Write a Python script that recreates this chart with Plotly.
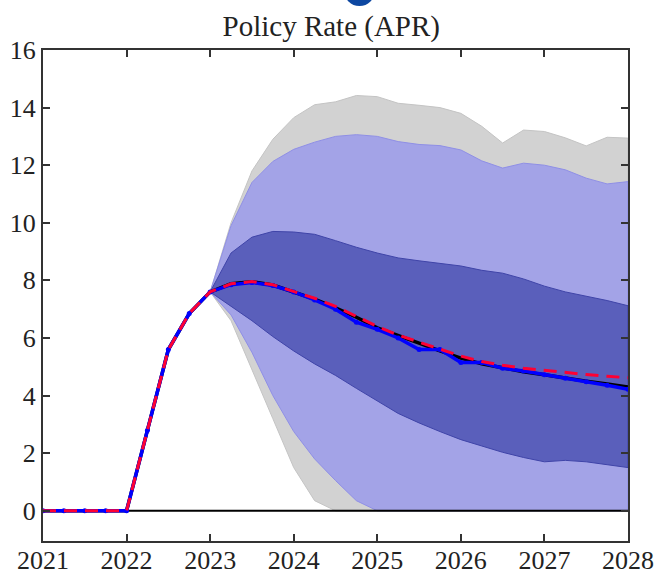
import plotly.graph_objects as go

# ---- data ----
hist_x = [2021.0, 2021.25, 2021.5, 2021.75, 2022.0, 2022.25, 2022.5, 2022.75, 2023.0]
hist_y = [0, 0, 0, 0, 0, 2.8, 5.6, 6.85, 7.6]

fc_x = [2023.0, 2023.25, 2023.5, 2023.75, 2024.0, 2024.25, 2024.5, 2024.75, 2025.0,
        2025.25, 2025.5, 2025.75, 2026.0, 2026.25, 2026.5, 2026.75, 2027.0,
        2027.25, 2027.5, 2027.75, 2028.0]

red_fc = [7.6, 7.88, 7.96, 7.85, 7.62, 7.38, 7.1, 6.75, 6.4, 6.1, 5.85, 5.6, 5.37,
          5.18, 5.05, 4.95, 4.87, 4.8, 4.73, 4.67, 4.62]
black_fc = [7.6, 7.88, 7.95, 7.84, 7.6, 7.35, 7.05, 6.72, 6.35, 6.07, 5.82, 5.55, 5.3,
            5.1, 4.95, 4.83, 4.72, 4.6, 4.5, 4.4, 4.3]
blue_fc = [7.6, 7.85, 7.93, 7.82, 7.6, 7.32, 7.0, 6.55, 6.3, 6.0, 5.6, 5.6, 5.15,
           5.15, 4.95, 4.85, 4.72, 4.6, 4.48, 4.36, 4.22]

gray_up = [7.6, 10.0, 11.8, 12.9, 13.65, 14.1, 14.2, 14.42, 14.38, 14.15, 14.08, 14.0,
           13.8, 13.35, 12.77, 13.22, 13.17, 12.95, 12.67, 12.97, 12.94]
gray_lo = [7.6, 6.6, 4.9, 3.2, 1.5, 0.35, 0, 0, 0, 0, 0, 0, 0, 0, 0, 0, 0, 0, 0, 0, 0]
light_up = [7.6, 9.9, 11.4, 12.13, 12.55, 12.8, 13.0, 13.06, 13.0, 12.82, 12.72, 12.68,
            12.53, 12.15, 11.9, 12.07, 12.0, 11.84, 11.55, 11.35, 11.43]
light_lo = [7.6, 6.8, 5.5, 4.0, 2.75, 1.8, 1.05, 0.35, 0, 0, 0, 0, 0, 0, 0, 0, 0, 0, 0, 0, 0]
dark_up = [7.6, 8.95, 9.5, 9.7, 9.68, 9.6, 9.38, 9.15, 8.95, 8.78, 8.68, 8.6, 8.5,
           8.35, 8.25, 8.05, 7.8, 7.6, 7.45, 7.3, 7.12]
dark_lo = [7.6, 7.1, 6.6, 6.05, 5.55, 5.1, 4.7, 4.25, 3.8, 3.38, 3.05, 2.75, 2.47,
           2.25, 2.03, 1.85, 1.7, 1.75, 1.7, 1.6, 1.5]

x_ticks = [2021, 2022, 2023, 2024, 2025, 2026, 2027, 2028]
y_ticks = [0, 2, 4, 6, 8, 10, 12, 14, 16]

FONT = "Liberation Serif"

fig = go.Figure()


def band(up, lo, fill, edge):
    fig.add_trace(go.Scatter(
        x=fc_x + fc_x[::-1], y=up + lo[::-1], fill="toself", fillcolor=fill,
        line=dict(color=edge, width=1), mode="lines", hoverinfo="skip", showlegend=False))


band(gray_up, gray_lo, "#d2d2d2", "#c4c4c4")
band(light_up, light_lo, "#a3a3e7", "#8f8fe6")
band(dark_up, dark_lo, "#5a5fbb", "#3f44a8")

# zero line
fig.add_trace(go.Scatter(x=[x_ticks[0], x_ticks[-1]], y=[0, 0], mode="lines",
                         line=dict(color="black", width=2), showlegend=False))

all_x = hist_x + fc_x[1:]
fig.add_trace(go.Scatter(x=all_x, y=hist_y + black_fc[1:], mode="lines",
                         line=dict(color="black", width=3.5), showlegend=False))
fig.add_trace(go.Scatter(x=all_x, y=hist_y + blue_fc[1:], mode="lines+markers",
                         line=dict(color="#0000ff", width=3.5),
                         marker=dict(color="#0000ff", size=5), showlegend=False))
fig.add_trace(go.Scatter(x=all_x, y=hist_y + red_fc[1:], mode="lines",
                         line=dict(color="#ff0033", width=3, dash="13px,8px"),
                         showlegend=False))

axis_common = dict(showgrid=False, zeroline=False, showline=True, linecolor="#333333",
                   linewidth=2, mirror="ticks", ticks="inside", ticklen=7, tickwidth=2,
                   tickcolor="#333333", automargin=False,
                   tickfont=dict(family=FONT, size=26, color="#222222"))

fig.update_xaxes(range=[2021, 2028], tickvals=x_ticks, ticktext=[str(v) for v in x_ticks],
                 ticklabelstandoff=-5, **axis_common)
fig.update_yaxes(range=[-1.05, 16], tickvals=y_ticks, ticktext=[str(v) for v in y_ticks],
                 **axis_common)

# partial dark-blue glyph cut off at the top edge of the picture
fig.add_shape(type="circle", xref="paper", yref="paper", x0=0.5145, x1=0.5675,
              y0=1.0896, y1=1.1527, fillcolor="#0d47a1", line=dict(width=0), layer="above")

fig.update_layout(
    width=656, height=575,
    margin=dict(l=43, r=28, t=50, b=34, autoexpand=False),
    paper_bgcolor="white", plot_bgcolor="white",
    title=dict(text="Policy Rate (APR)", x=0.505, xanchor="center", y=0.955, yanchor="middle",
               font=dict(family=FONT, size=29, color="#222222")),
    showlegend=False,
)

fig.write_html("out.html")
